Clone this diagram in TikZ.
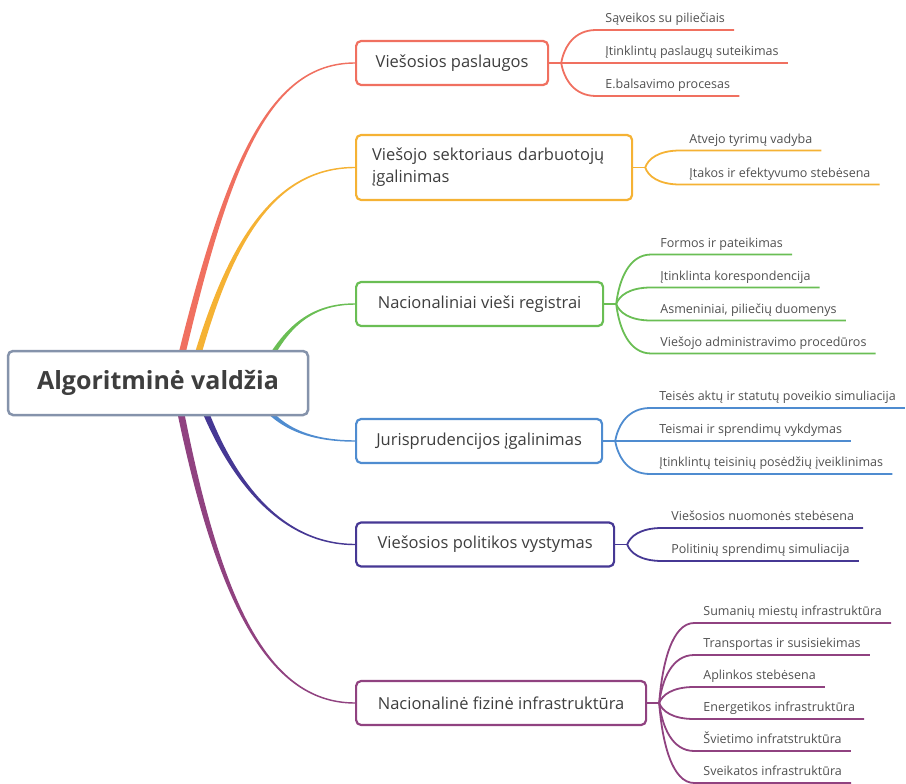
\documentclass[tikz,border=0pt]{standalone}
\usepackage{fontspec}
\setmainfont{Open Sans}
\usetikzlibrary{calc}
\pgfdeclarelayer{bg}
\pgfsetlayers{bg,main}

\definecolor{cRoot}{RGB}{133,147,171}
\definecolor{cText}{RGB}{62,62,62}
\definecolor{cLeaf}{RGB}{80,80,80}
\definecolor{cRed}{RGB}{240,112,96}
\definecolor{cOrange}{RGB}{245,178,52}
\definecolor{cGreen}{RGB}{106,190,84}
\definecolor{cBlue}{RGB}{79,140,208}
\definecolor{cIndigo}{RGB}{70,56,148}
\definecolor{cPlum}{RGB}{144,66,128}

\tikzset{
  rootbox/.style={draw=cRoot, line width=2.5pt, rounded corners=5pt, fill=white,
    minimum width=300pt, minimum height=64pt, inner sep=0pt,
    font=\fontsize{25}{30}\selectfont\bfseries, text=cText},
  topicbox/.style={line width=2.2pt, rounded corners=5pt, fill=white, anchor=west,
    minimum height=44pt, inner xsep=0pt, inner ysep=0pt,
    font=\fontsize{16.5}{22}\selectfont, text=cText},
  leaf/.style={anchor=south west, inner xsep=9pt, inner ysep=3.8pt,
    text height=9.5pt, text depth=3.2pt,
    font=\fontsize{12.5}{15}\selectfont, text=cLeaf},
  twig/.style={line width=1.8pt},
}

% tapered main branch: start, control 1, control 2, end, colour
\newcommand\branchfill[5]{%
  \fill[#5] ($(#1)!3.6pt!90:(#2)$) .. controls ($(#2)!2.4pt!-90:(#1)$) and ($(#3)!0.9pt!90:(#4)$) .. ($(#4)!0.7pt!-90:(#3)$)
    -- ($(#4)!0.7pt!90:(#3)$) .. controls ($(#3)!0.9pt!-90:(#4)$) and ($(#2)!2.4pt!90:(#1)$) .. ($(#1)!3.6pt!-90:(#2)$) -- cycle;}

% sub-branch from a fork point to the underline of a leaf
\newcommand\twigto[3]{%
  \draw[twig,#3] (#1) .. controls ($(#1)!0.5!(#1 |- #2.south west) + (3,0)$) and ($(#1 |- #2.south west)+(13,0)$) .. (#2.south west) -- (#2.south east);}

\begin{document}
\begin{tikzpicture}[x=1pt,y=-1pt]
\useasboundingbox (0,0) rectangle (906,784);

% central topic
\node[rootbox] (root) at (158,383) {Algoritminė valdžia};

% main topics
\node[topicbox, draw=cRed, minimum width=192pt] (t1) at (355,63) {Viešosios paslaugos};
\node[topicbox, draw=cOrange, minimum height=65pt, inner xsep=16pt, text width=244pt, align=left] (t2) at (355,167.5) {Viešojo sektoriaus darbuotojų\\įgalinimas};
\node[topicbox, draw=cGreen, minimum width=247pt] (t3) at (355,304) {Nacionaliniai vieši registrai};
\node[topicbox, draw=cBlue, minimum width=246pt] (t4) at (355,441) {Jurisprudencijos įgalinimas};
\node[topicbox, draw=cIndigo, minimum width=258pt] (t5) at (355,544.5) {Viešosios politikos vystymas};
\node[topicbox, draw=cPlum, minimum width=290pt] (t6) at (355,703) {Nacionalinė fizinė infrastruktūra};

% fork points right of each main topic
\foreach \t in {1,...,6} { \coordinate (f\t) at ($(t\t.east)+(12,0)$); }

% leaves
\node[leaf] (a1) at ($(f1)+(35,-33)$) {Sąveikos su piliečiais};
\node[leaf] (a2) at ($(f1)+(35,0)$) {Įtinklintų paslaugų suteikimas};
\node[leaf] (a3) at ($(f1)+(35,33)$) {E.balsavimo procesas};

\node[leaf] (b1) at ($(f2)+(35,-17)$) {Atvejo tyrimų vadyba};
\node[leaf] (b2) at ($(f2)+(35,17)$) {Įtakos ir efektyvumo stebėsena};

\node[leaf] (c1) at ($(f3)+(35,-49.5)$) {Formos ir pateikimas};
\node[leaf] (c2) at ($(f3)+(35,-16.5)$) {Įtinklinta korespondencija};
\node[leaf] (c3) at ($(f3)+(35,16.5)$) {Asmeniniai, piliečių duomenys};
\node[leaf] (c4) at ($(f3)+(35,49.5)$) {Viešojo administravimo procedūros};

\node[leaf] (d1) at ($(f4)+(35,-33)$) {Teisės aktų ir statutų poveikio simuliacija};
\node[leaf] (d2) at ($(f4)+(35,0)$) {Teismai ir sprendimų vykdymas};
\node[leaf] (d3) at ($(f4)+(35,33)$) {Įtinklintų teisinių posėdžių įveiklinimas};

\node[leaf] (e1) at ($(f5)+(35,-16.5)$) {Viešosios nuomonės stebėsena};
\node[leaf] (e2) at ($(f5)+(35,16.5)$) {Politinių sprendimų simuliacija};

\node[leaf] (g1) at ($(f6)+(35,-80)$) {Sumanių miestų infrastruktūra};
\node[leaf] (g2) at ($(f6)+(35,-48)$) {Transportas ir susisiekimas};
\node[leaf] (g3) at ($(f6)+(35,-16)$) {Aplinkos stebėsena};
\node[leaf] (g4) at ($(f6)+(35,16)$) {Energetikos infrastruktūra};
\node[leaf] (g5) at ($(f6)+(35,48)$) {Švietimo infratstruktūra};
\node[leaf] (g6) at ($(f6)+(35,80)$) {Sveikatos infrastruktūra};

% sub-branches
\draw[twig,cRed] (t1.east) -- (f1);
\foreach \l in {a1,a2,a3} { \twigto{f1}{\l}{cRed} }
\draw[twig,cOrange] (t2.east) -- (f2);
\foreach \l in {b1,b2} { \twigto{f2}{\l}{cOrange} }
\draw[twig,cGreen] (t3.east) -- (f3);
\foreach \l in {c1,c2,c3,c4} { \twigto{f3}{\l}{cGreen} }
\draw[twig,cBlue] (t4.east) -- (f4);
\foreach \l in {d1,d2,d3} { \twigto{f4}{\l}{cBlue} }
\draw[twig,cIndigo] (t5.east) -- (f5);
\foreach \l in {e1,e2} { \twigto{f5}{\l}{cIndigo} }
\draw[twig,cPlum] (t6.east) -- (f6);
\foreach \l in {g1,g2,g3,g4,g5,g6} { \twigto{f6}{\l}{cPlum} }

% main branches, behind the boxes
\begin{pgfonlayer}{bg}
  \coordinate (s1) at ($(root.center)+(17,0)$);
  \coordinate (p1) at (225,170);
  \coordinate (q1) at ($(t1.west)+(-89,0)$);
  \branchfill{s1}{p1}{q1}{t1.west}{cRed}

  \coordinate (s2) at ($(root.center)+(32,0)$);
  \coordinate (p2) at (225,250);
  \coordinate (q2) at ($(t2.west)+(-85,0)$);
  \branchfill{s2}{p2}{q2}{t2.west}{cOrange}

  \coordinate (s3) at ($(root.center)+(92,17)$);
  \coordinate (p3) at (275,340);
  \coordinate (q3) at ($(t3.west)+(-55,0)$);
  \branchfill{s3}{p3}{q3}{t3.west}{cGreen}

  \coordinate (s4) at ($(root.center)+(92,0)$);
  \coordinate (p4) at (268,422);
  \coordinate (q4) at ($(t4.west)+(-55,0)$);
  \branchfill{s4}{p4}{q4}{t4.west}{cBlue}

  \coordinate (s5) at ($(root.center)+(37,0)$);
  \coordinate (p5) at (220,460);
  \coordinate (q5) at ($(t5.west)+(-85,0)$);
  \branchfill{s5}{p5}{q5}{t5.west}{cIndigo}

  \coordinate (s6) at ($(root.center)+(17,0)$);
  \coordinate (p6) at (215,595);
  \coordinate (q6) at ($(t6.west)+(-90,0)$);
  \branchfill{s6}{p6}{q6}{t6.west}{cPlum}
\end{pgfonlayer}
\end{tikzpicture}
\end{document}
